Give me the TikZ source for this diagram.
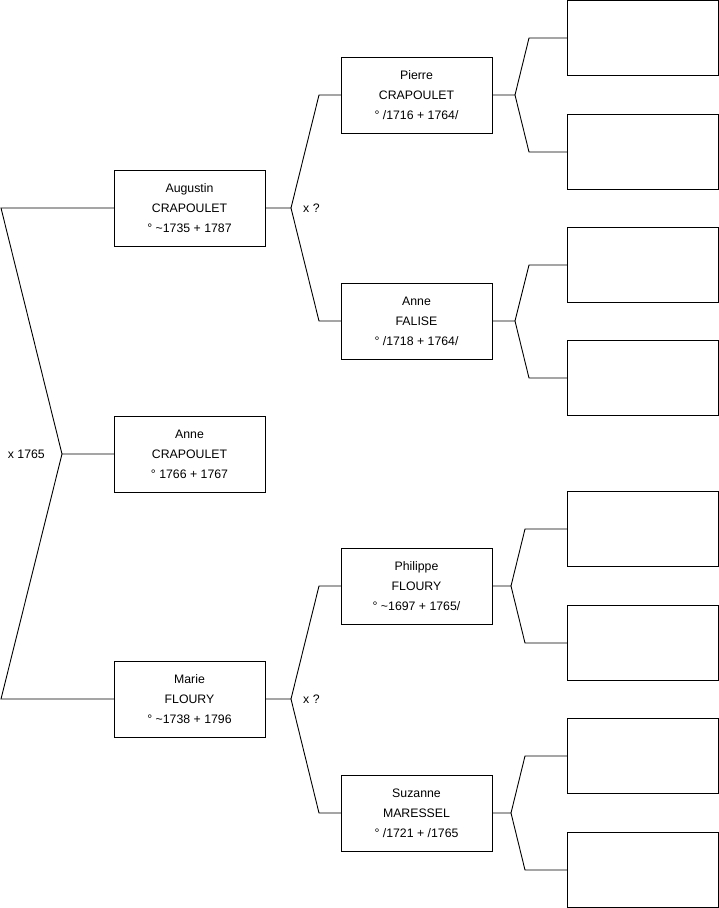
\documentclass[tikz,border=0pt]{standalone}
\usepackage{fontspec}
\setmainfont{Liberation Sans}
\usetikzlibrary{positioning}

\tikzset{
    person/.style={draw, line width=1pt, outer sep=0pt, minimum width=151pt, minimum height=76pt, align=center, inner sep=0pt, font=\fontsize{12.3}{20}\selectfont},
    ancestor/.style={person, minimum height=75pt},
    union/.style={inner sep=0pt, font=\fontsize{12.3}{14}\selectfont},
    link/.style={line width=0.9pt}
}

\begin{document}
\begin{tikzpicture}[x=1pt, y=-1pt]
    \useasboundingbox (0,0) rectangle (719,908);

    % First generation
    \node[person] (anne) at (189.5,454) {Anne\\CRAPOULET\\° 1766 + 1767};
    \node[person] (augustin) at (189.5,208) {Augustin\\CRAPOULET\\° \textasciitilde1735 + 1787};
    \node[person] (marie) at (189.5,699) {Marie\\FLOURY\\° \textasciitilde1738 + 1796};

    % Grandparents
    \node[person, above right=37pt and 76pt of augustin] (pierre) {Pierre\\CRAPOULET\\° /1716 + 1764/};
    \node[person, below right=37pt and 76pt of augustin] (falise) {Anne\\FALISE\\° /1718 + 1764/};
    \node[person, above right=37pt and 76pt of marie] (philippe) {Philippe\\FLOURY\\° \textasciitilde1697 + 1765/};
    \node[person, below right=38pt and 76pt of marie] (suzanne) {Suzanne\\MARESSEL\\° /1721 + /1765};

    % Great-grandparents (unknown)
    \node[ancestor, right=75pt of pierre, yshift=57pt] (p1) {};
    \node[ancestor, right=75pt of pierre, yshift=-57pt] (p2) {};
    \node[ancestor, right=75pt of falise, yshift=56pt] (p3) {};
    \node[ancestor, right=75pt of falise, yshift=-57pt] (p4) {};
    \node[ancestor, right=75pt of philippe, yshift=57pt] (p5) {};
    \node[ancestor, right=75pt of philippe, yshift=-57pt] (p6) {};
    \node[ancestor, right=75pt of suzanne, yshift=57pt] (p7) {};
    \node[ancestor, right=75pt of suzanne, yshift=-57pt] (p8) {};

    % Marriage of the parents
    \draw[link] (augustin.west) -- ++(-113,0) -- ([xshift=-52pt]anne.west) coordinate (xroot) -- (anne.west);
    \draw[link] (marie.west) -- ++(-113,0) -- (xroot);
    \node[union, left=17pt of xroot] (xroot-label) {x 1765};

    % Marriages of the grandparents
    \draw[link] (augustin.east) -- ++(26,0) coordinate (xa) -- ([xshift=-22pt]pierre.west) -- (pierre.west);
    \draw[link] (xa) -- ([xshift=-22pt]falise.west) -- (falise.west);
    \node[union, right=12pt of xa] (xa-label) {x ?};

    \draw[link] (marie.east) -- ++(26,0) coordinate (xm) -- ([xshift=-22pt]philippe.west) -- (philippe.west);
    \draw[link] (xm) -- ([xshift=-22pt]suzanne.west) -- (suzanne.west);
    \node[union, right=12pt of xm] (xm-label) {x ?};

    % Forks to the great-grandparents
    \draw[link] (pierre.east) -- ++(23,0) coordinate (xp) -- ([xshift=-38pt]p1.west) -- (p1.west);
    \draw[link] (xp) -- ([xshift=-38pt]p2.west) -- (p2.west);
    \draw[link] (falise.east) -- ++(23,0) coordinate (xf) -- ([xshift=-38pt]p3.west) -- (p3.west);
    \draw[link] (xf) -- ([xshift=-38pt]p4.west) -- (p4.west);
    \draw[link] (philippe.east) -- ++(19,0) coordinate (xph) -- ([xshift=-42pt]p5.west) -- (p5.west);
    \draw[link] (xph) -- ([xshift=-42pt]p6.west) -- (p6.west);
    \draw[link] (suzanne.east) -- ++(19,0) coordinate (xs) -- ([xshift=-42pt]p7.west) -- (p7.west);
    \draw[link] (xs) -- ([xshift=-42pt]p8.west) -- (p8.west);
\end{tikzpicture}
\end{document}
